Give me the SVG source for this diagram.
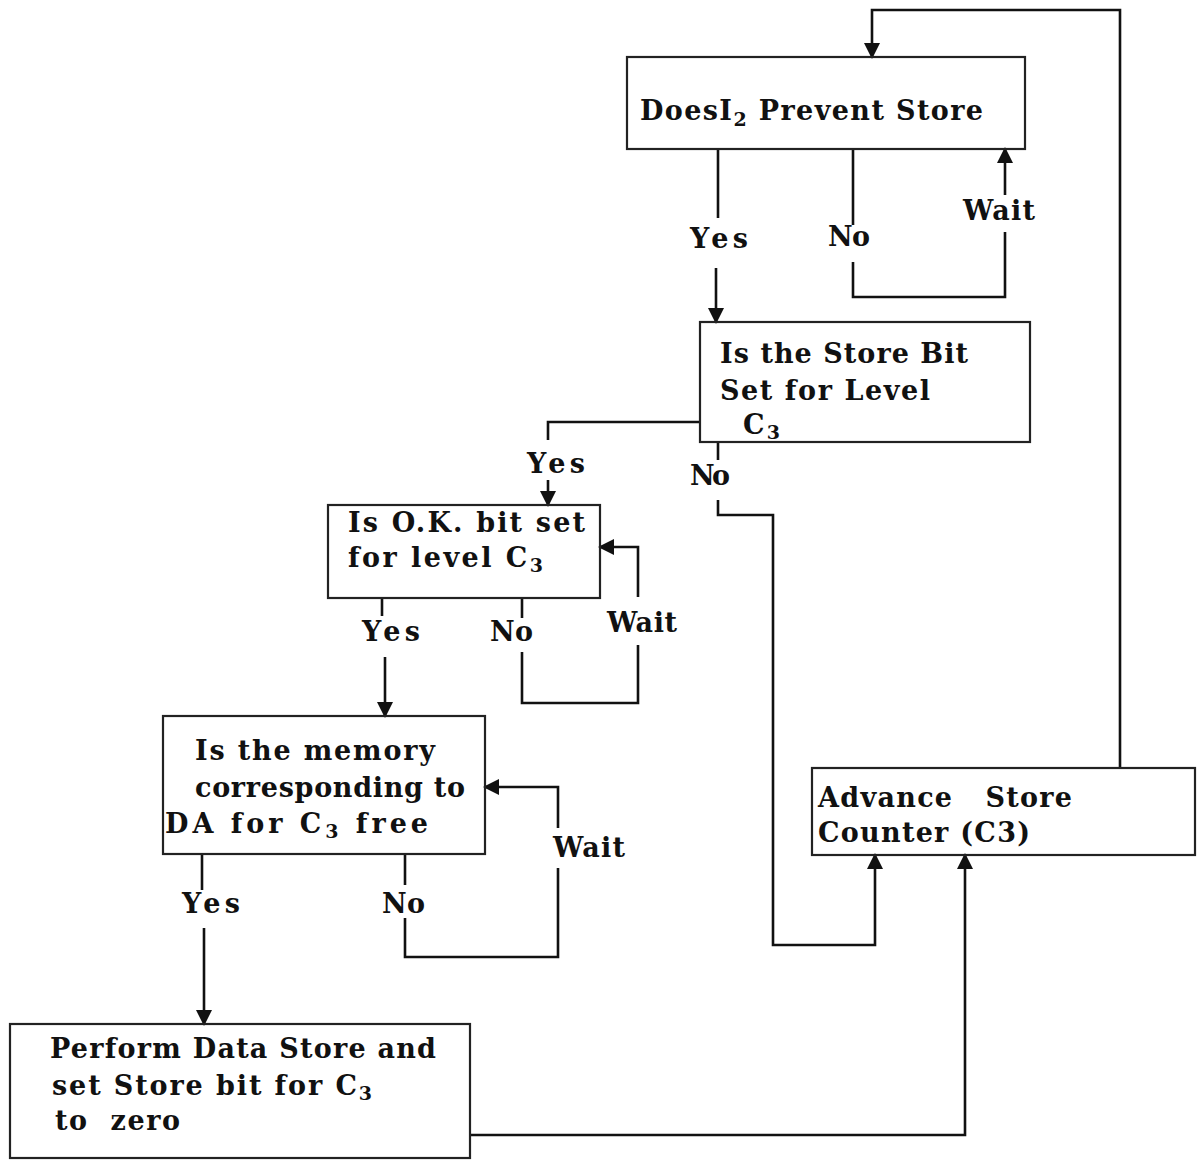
<svg xmlns="http://www.w3.org/2000/svg" width="1199" height="1167" viewBox="0 0 1199 1167">
<defs>
<style>
.box{fill:none;stroke:#222;stroke-width:2.2}
.ln{fill:none;stroke:#111;stroke-width:2.6}
.t{font-family:"DejaVu Serif","Liberation Serif",serif;font-weight:bold;font-size:27px;fill:#111}
.lb{font-family:"DejaVu Serif","Liberation Serif",serif;font-weight:bold;font-size:27px;fill:#111}
.sub{font-size:19px}
</style>
<marker id="ah" markerUnits="userSpaceOnUse" markerWidth="16" markerHeight="18" refX="14" refY="8" orient="auto">
<path d="M0,0 L16,8 L0,16 Z" fill="#111"/>
</marker>
</defs>
<rect width="1199" height="1167" fill="#fff"/>
<g id="connectors">
<path class="ln" d="M1120,768 V10 H872 V57" marker-end="url(#ah)"/>
<path class="ln" d="M718,149 V218"/>
<path class="ln" d="M716,268 V322" marker-end="url(#ah)"/>
<path class="ln" d="M853,149 V225"/>
<path class="ln" d="M853,262 V297 H1005 V232"/>
<path class="ln" d="M1005,195 V149" marker-end="url(#ah)"/>
<path class="ln" d="M700,422 H548 V440"/>
<path class="ln" d="M548,480 V505" marker-end="url(#ah)"/>
<path class="ln" d="M718,442 V460"/>
<path class="ln" d="M718,500 V515 H773 V945 H875 V855" marker-end="url(#ah)"/>
<path class="ln" d="M522,598 V618"/>
<path class="ln" d="M522,652 V703 H638 V645"/>
<path class="ln" d="M638,597 V547 H600" marker-end="url(#ah)"/>
<path class="ln" d="M382,598 V616"/>
<path class="ln" d="M385,657 V716" marker-end="url(#ah)"/>
<path class="ln" d="M405,854 V885"/>
<path class="ln" d="M405,918 V957 H558 V868"/>
<path class="ln" d="M558,828 V787 H485" marker-end="url(#ah)"/>
<path class="ln" d="M202,854 V890"/>
<path class="ln" d="M204,928 V1024" marker-end="url(#ah)"/>
<path class="ln" d="M470,1135 H965 V855" marker-end="url(#ah)"/>
</g>
<g id="labels">
<text class="lb" x="690" y="248" textLength="58">Yes</text>
<text class="lb" x="828" y="246" textLength="42">No</text>
<text class="lb" x="963" y="220" textLength="72">Wait</text>
<text class="lb" x="527" y="473" textLength="58">Yes</text>
<text class="lb" x="690" y="485" textLength="40">No</text>
<text class="lb" x="362" y="641" textLength="58">Yes</text>
<text class="lb" x="490" y="641" textLength="43">No</text>
<text class="lb" x="607" y="632" textLength="70">Wait</text>
<text class="lb" x="182" y="913" textLength="58">Yes</text>
<text class="lb" x="382" y="913" textLength="43">No</text>
<text class="lb" x="553" y="857" textLength="72">Wait</text>
</g>
<g id="n1">
<rect class="box" x="627" y="57" width="398" height="92"/>
<text class="t" x="640" y="120" textLength="343">DoesI<tspan class="sub" dy="6">2</tspan><tspan dy="-6"> Prevent Store</tspan></text>
</g>
<g id="n2">
<rect class="box" x="700" y="322" width="330" height="120"/>
<text class="t" x="720" y="363" textLength="248">Is the Store Bit</text>
<text class="t" x="720" y="400" textLength="210">Set for Level</text>
<text class="t" x="743" y="434" textLength="37">C<tspan class="sub" dy="5">3</tspan></text>
</g>
<g id="n3">
<rect class="box" x="328" y="505" width="272" height="93"/>
<text class="t" x="348" y="532" textLength="237">Is O.K. bit set</text>
<text class="t" x="348" y="567" textLength="195">for level C<tspan class="sub" dy="5">3</tspan></text>
</g>
<g id="n4">
<rect class="box" x="163" y="716" width="322" height="138"/>
<text class="t" x="195" y="760" textLength="240">Is the memory</text>
<text class="t" x="195" y="797" textLength="270">corresponding to</text>
<text class="t" x="165" y="833" textLength="263">DA for C<tspan class="sub" dy="5">3</tspan><tspan dy="-5"> free</tspan></text>
</g>
<g id="n5">
<rect class="box" x="10" y="1024" width="460" height="134"/>
<text class="t" x="50" y="1058" textLength="386">Perform Data Store and</text>
<text class="t" x="52" y="1095" textLength="320">set Store bit for C<tspan class="sub" dy="5">3</tspan></text>
<text class="t" x="55" y="1130" textLength="125" xml:space="preserve">to  zero</text>
</g>
<g id="n6">
<rect class="box" x="812" y="768" width="383" height="87"/>
<text class="t" x="818" y="807" textLength="254" xml:space="preserve">Advance   Store</text>
<text class="t" x="818" y="842" textLength="212">Counter (C3)</text>
</g>
</svg>
